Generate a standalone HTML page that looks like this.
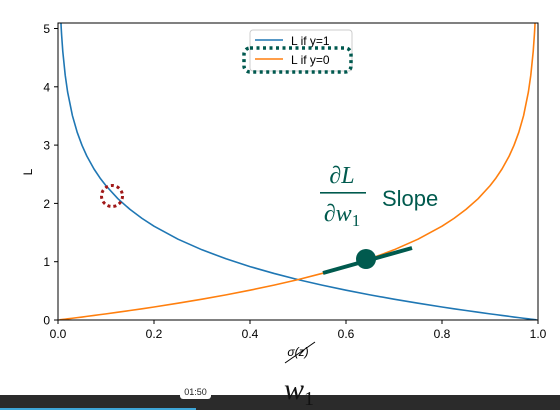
<!DOCTYPE html>
<html><head><meta charset="utf-8"><style>
body{margin:0;width:560px;height:410px;overflow:hidden;background:#fff;font-family:"Liberation Sans","DejaVu Sans",sans-serif}
</style></head><body>
<svg width="560" height="410" viewBox="0 0 560 410" xmlns="http://www.w3.org/2000/svg">
<defs><clipPath id="pc"><rect x="58" y="23" width="480" height="297"/></clipPath></defs>
<g id="series" clip-path="url(#pc)"></g>
<rect x="58" y="23" width="480" height="297" fill="none" stroke="#000" stroke-width="1"/>
<g id="xt" font-size="12" fill="#000"></g>
<g id="yt" font-size="12" fill="#000"></g>
<text x="32" y="172" font-size="12" transform="rotate(-90 32 172)" text-anchor="middle">L</text>
<text x="298" y="356" font-size="12" font-style="italic" text-anchor="middle">σ(z)</text>
<line x1="285" y1="363" x2="315" y2="342" stroke="#000" stroke-width="1"/>
<g>
<rect x="250" y="30" width="102" height="41" rx="3" fill="#fff" stroke="#ccc" stroke-width="1"/>
<line x1="255" y1="40" x2="283" y2="40" stroke="#1f77b4" stroke-width="1.6"/>
<text x="291" y="45" font-size="12">L if y=1</text>
<line x1="255" y1="59" x2="283" y2="59" stroke="#ff7f0e" stroke-width="1.6"/>
<text x="291" y="64" font-size="12">L if y=0</text>
</g>
<rect x="244" y="48" width="107" height="24" rx="6" fill="none" stroke="#00594f" stroke-width="3.5" stroke-dasharray="3,3.5"/>
<circle cx="112" cy="196" r="10.5" fill="none" stroke="#a01818" stroke-width="3" stroke-dasharray="3,3"/>
<line x1="323" y1="273" x2="412" y2="248" stroke="#005a4e" stroke-width="4"/>
<circle cx="366" cy="259" r="10" fill="#005a4e"/>
<g fill="#005a4e" font-family="'Liberation Serif',serif">
<text x="342" y="183" font-size="24" text-anchor="middle" font-style="italic">∂L</text>
<rect x="320" y="192" width="46" height="1.6"/>
<text x="342" y="221" font-size="24" text-anchor="middle" font-style="italic">∂w<tspan font-style="normal" font-size="17" dy="5">1</tspan></text>
</g>
<text x="382" y="206" font-size="22" fill="#005a4e">Slope</text>
<rect x="0" y="395" width="560" height="15" fill="#2b2b2b"/>
<rect x="0" y="408" width="196" height="2" fill="#3ea6d8"/>
<rect x="180" y="383" width="31" height="16" rx="3" fill="#fff"/>
<text x="195.5" y="395" font-size="9" text-anchor="middle" fill="#222">01:50</text>
<text x="284" y="399" font-size="30" font-style="italic" font-family="'Liberation Serif',serif" fill="#111">w<tspan font-style="normal" font-size="20" dy="6">1</tspan></text>
</svg>
<script>
const sigmas=[0.003,0.004,0.005,0.0067,0.0075,0.01,0.015,0.02,0.03,0.04,0.05,0.06,0.075,0.0875,0.1,0.125,0.15,0.175,0.2,0.25,0.3,0.35,0.4,0.45,0.5,0.55,0.6,0.65,0.7,0.75,0.8,0.825,0.85,0.875,0.9,0.9125,0.925,0.94,0.95,0.96,0.97,0.98,0.985,0.99,0.9925,0.9933,0.995,0.996,0.997];
const lossY1=[5.809,5.521,5.298,5.006,4.893,4.605,4.200,3.912,3.507,3.219,2.996,2.813,2.590,2.436,2.303,2.079,1.897,1.743,1.609,1.386,1.204,1.050,0.916,0.799,0.693,0.598,0.511,0.431,0.357,0.288,0.223,0.192,0.163,0.134,0.105,0.092,0.078,0.062,0.051,0.041,0.030,0.020,0.015,0.010,0.0075,0.0067,0.005,0.004,0.003];
const lossY0=[0.003,0.004,0.005,0.0067,0.0075,0.010,0.015,0.020,0.030,0.041,0.051,0.062,0.078,0.092,0.105,0.134,0.163,0.192,0.223,0.288,0.357,0.431,0.511,0.598,0.693,0.799,0.916,1.050,1.204,1.386,1.609,1.743,1.897,2.079,2.303,2.436,2.590,2.813,2.996,3.219,3.507,3.912,4.200,4.605,4.893,5.006,5.298,5.521,5.809];
const xTicks=[0,0.2,0.4,0.6,0.8,1.0];
const yTicks=[0,1,2,3,4,5];
const NS="http://www.w3.org/2000/svg";
const X=v=>58+v*480, Y=v=>320-v*58.3;
function line(xs,ys,c,name){
  const p=document.createElementNS(NS,'polyline');
  p.setAttribute('points',xs.map((x,i)=>X(x)+','+Y(ys[i])).join(' '));
  p.setAttribute('fill','none');p.setAttribute('stroke',c);p.setAttribute('stroke-width','1.6');p.setAttribute('stroke-linejoin','round');
  
  
  document.getElementById('series').appendChild(p);
}
line(sigmas,lossY1,'#1f77b4','line-y1');
line(sigmas,lossY0,'#ff7f0e','line-y0');
const xt=document.getElementById('xt'),yt=document.getElementById('yt');
xTicks.forEach(v=>{
  const l=document.createElementNS(NS,'line');
  l.setAttribute('x1',X(v));l.setAttribute('x2',X(v));l.setAttribute('y1',320);l.setAttribute('y2',324);l.setAttribute('stroke','#000');
  
  
  xt.appendChild(l);
  const t=document.createElementNS(NS,'text');
  t.setAttribute('x',X(v));t.setAttribute('y',338);t.setAttribute('text-anchor','middle');t.textContent=v.toFixed(1);
  
  
  xt.appendChild(t);
});
yTicks.forEach(v=>{
  const l=document.createElementNS(NS,'line');
  l.setAttribute('x1',54);l.setAttribute('x2',58);l.setAttribute('y1',Y(v));l.setAttribute('y2',Y(v));l.setAttribute('stroke','#000');
  
  
  yt.appendChild(l);
  const t=document.createElementNS(NS,'text');
  t.setAttribute('x',50);t.setAttribute('y',Y(v)+4.5);t.setAttribute('text-anchor','end');t.textContent=v;
  
  
  yt.appendChild(t);
});
</script>
</body></html>
